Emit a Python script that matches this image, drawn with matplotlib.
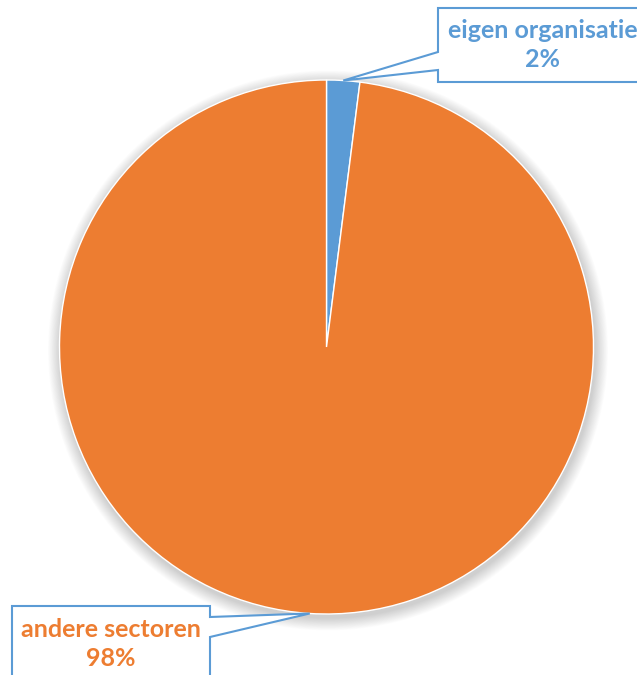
import numpy as np
import matplotlib.pyplot as plt
from matplotlib.patches import Polygon, Circle

labels = ["eigen organisatie", "andere sectoren"]
shares = [2, 98]
colors = ["#5B9BD5", "#ED7D31"]

W, H = 637, 675
fig = plt.figure(figsize=(W / 100, H / 100), dpi=100)
ax = fig.add_axes([0, 0, 1, 1])

cx, cy, r = 326.5, H - 347, 267

# soft shadow under the pie
for i in range(16):
    ax.add_patch(Circle((cx + 1.5, cy - 3.5), r + 1 + i * 0.8, color="black",
                        alpha=0.013, lw=0, zorder=0))

wedges, _ = ax.pie(shares, colors=colors, startangle=90, counterclock=False,
                   center=(cx, cy), radius=r, frame=True,
                   wedgeprops=dict(edgecolor="white", linewidth=1))
ax.set_xlim(0, W)
ax.set_ylim(0, H)
ax.set_aspect("equal")
ax.axis("off")


def tip(w):
    a = np.deg2rad((w.theta1 + w.theta2) / 2)
    return cx + r * np.cos(a), cy + r * np.sin(a)


def callout(box, attach, point, text, color, side, text_y):
    x0, y0, x1, y1 = box  # pixel coords, top-left / bottom-right
    a0, a1 = attach
    if side == "left":
        corners = [(x0, y0), (x1, y0), (x1, y1), (x0, y1), (x0, a1), None, (x0, a0)]
    else:
        corners = [(x0, y0), (x1, y0), (x1, a0), None, (x1, a1), (x1, y1), (x0, y1)]
    pts = [point if c is None else (c[0], H - c[1]) for c in corners]
    ax.add_patch(Polygon(pts, closed=True, facecolor="white",
                         edgecolor="#5B9BD5", lw=1.5, zorder=5))
    ax.text((x0 + x1) / 2, H - text_y, text, ha="center", va="center",
            color=color, fontsize=18, fontweight="bold", family="Lato",
            linespacing=1.32, zorder=6)


callout((438, 8, 647, 82), (52, 70), tip(wedges[0]),
        f"{labels[0]}\n{shares[0]}%", colors[0], "left", 45)
callout((12, 606, 210, 690), (617, 637), tip(wedges[1]),
        f"{labels[1]}\n{shares[1]}%", colors[1], "right", 644)

fig.savefig("out.png", dpi=100)
